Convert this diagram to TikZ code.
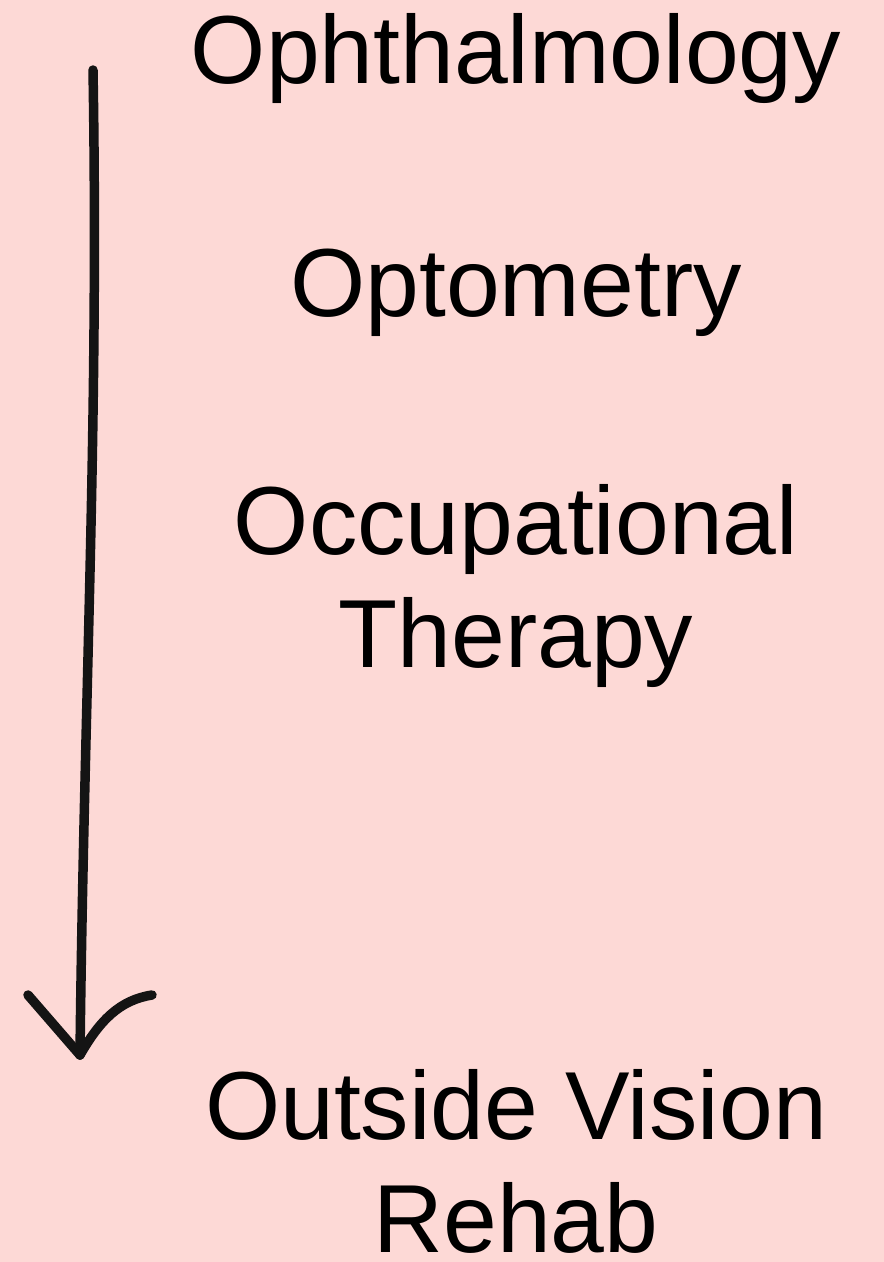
\documentclass[tikz,border=0pt]{standalone}
\usepackage{fontspec}
\setmainfont{Liberation Sans}
\definecolor{bgpink}{RGB}{253,217,214}
\definecolor{pencil}{RGB}{20,20,20}
\tikzset{
  field/.style={anchor=base, align=center, text=black,
    font=\fontsize{27.5}{32}\selectfont},
  stroke/.style={draw=pencil, line width=2.7pt, line cap=round, line join=round}
}
\begin{document}
\begin{tikzpicture}[x=0.01cm, y=-0.01cm]
    \fill[bgpink] (0,0) rectangle (884,1262);
    \path[use as bounding box] (0,0) rectangle (884,1262);

    % Fields (base = last line)
    \node[field] (ophth) at (516,83) {Ophthalmology};
    \node[field] (optom) at (516,316) {Optometry};
    \node[field] (occup) at (516,667) {Occupational\\Therapy};
    \node[field] (rehab) at (516,1252) {Outside Vision\\Rehab};

    % Arrow
    \coordinate (arrowtop) at (93,70);
    \coordinate (arrowtip) at (80,1055);
    \coordinate (headleft) at (28,995);
    \coordinate (headright) at (152,995);
    \draw[stroke] (arrowtop) .. controls (99,420) and (84,700) .. (arrowtip);
    \draw[stroke] (headleft) -- (arrowtip);
    \draw[stroke] (headright) .. controls (120,1000) and (100,1020) .. (arrowtip);
\end{tikzpicture}
\end{document}
